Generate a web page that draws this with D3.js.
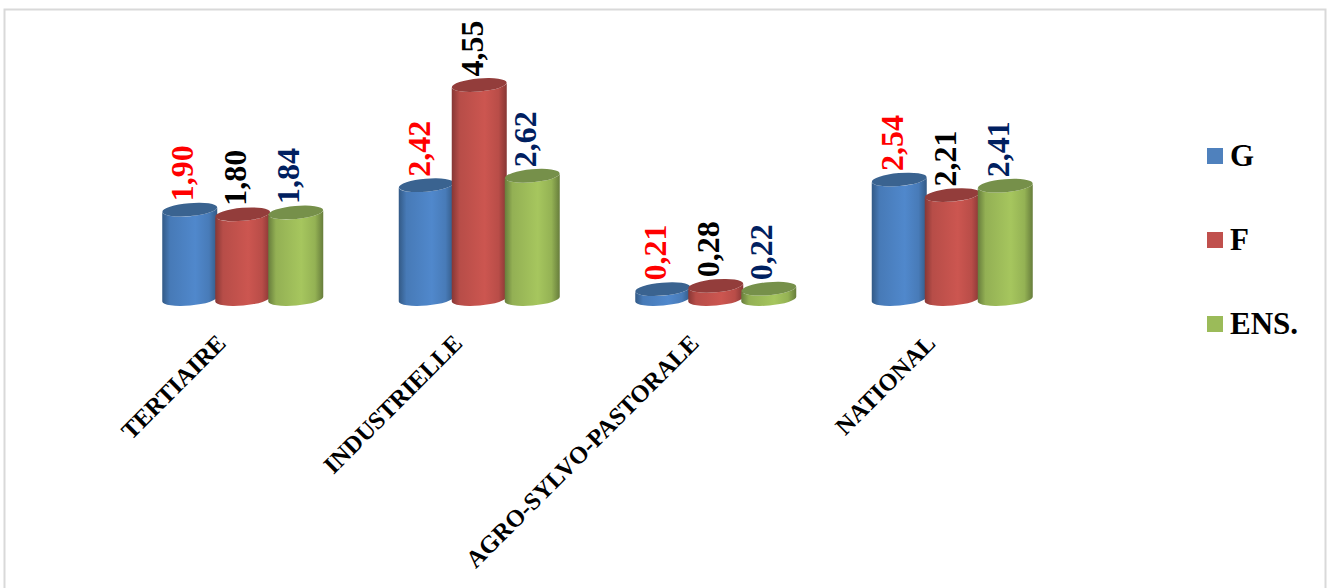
<!DOCTYPE html>
<html><head><meta charset="utf-8">
<script src="https://cdn.jsdelivr.net/npm/d3@7"></script>
<style>html,body{margin:0;padding:0;background:#fff}svg{display:block}
text{font-family:"Liberation Serif",serif;font-weight:bold}</style>
</head><body><svg id="c" width="1330" height="588"></svg>
<script>
const categories = ["TERTIAIRE","INDUSTRIELLE","AGRO-SYLVO-PASTORALE","NATIONAL"];
const seriesNames = ["G","F","ENS."];
const valuesG = [1.90,2.42,0.21,2.54];
const valuesF = [1.80,4.55,0.28,2.21];
const valuesEns = [1.84,2.62,0.22,2.41];
const seriesColors = ["#4f81bd","#c0504d","#9bbb59"];
const centerColors = ["#5088cc","#cc5650","#a6c65e"];
const topColors = ["#3a6390","#933d3b","#76904a"];
const edgeColors = ["#335a86","#873735","#677d3c"];
const labelColors = ["#ff0000","#000000","#002060"];

const allValues = [valuesG,valuesF,valuesEns];
const svg = d3.select("#c");
svg.append("rect").attr("x",4.5).attr("y",9.5).attr("width",1321).attr("height",590)
  .attr("fill","#fff").attr("stroke","#d9d9d9").attr("stroke-width",2);

const defs = svg.append("defs");
centerColors.forEach((c,i)=>{
  const g = defs.append("linearGradient").attr("id","g"+i);
  [[0,edgeColors[i]],[.14,d3.interpolateRgb(edgeColors[i],c)(.7)],[.6,c],[.85,d3.interpolateRgb(edgeColors[i],c)(.72)],[1,edgeColors[i]]]
    .forEach(([o,col])=>g.append("stop").attr("offset",o).attr("stop-color",col));
});

const x = d3.scaleBand().domain(categories).range([124.5,1070.5]).padding(0);
const inner = d3.scaleBand().domain(seriesNames).range([-79.5,79.5]);
const y = d3.scaleLinear().domain([0,4.55]).range([299,85]);
const rx = 27.5, ry = 6.5, tilt = -5;
const dy = rx*Math.sin(tilt*Math.PI/180);
const plot = svg.append("g");

categories.forEach((cat,ci)=>{
  const cx0 = x(cat)+x.bandwidth()/2;
  seriesNames.forEach((s,si)=>{
    const v = allValues[si][ci];
    const cx = cx0+inner(s)+inner.bandwidth()/2;
    const yt = y(v), yb = y(0);
    plot.append("path")
      .attr("d",`M${cx-rx},${yt-dy}L${cx-rx},${yb-dy}A${rx},${ry} ${tilt} 0 0 ${cx+rx},${yb+dy}L${cx+rx},${yt+dy}A${rx},${ry} ${tilt} 0 1 ${cx-rx},${yt-dy}Z`)
      .attr("fill",`url(#g${si})`);
    plot.append("ellipse").attr("cx",cx).attr("cy",yt).attr("rx",rx).attr("ry",ry)
      .attr("transform",`rotate(${tilt} ${cx} ${yt})`).attr("fill",topColors[si]);
    plot.append("text")
      .attr("transform",`translate(${cx+3.5},${yt-8.5}) rotate(-90)`)
      .attr("font-size",32).attr("fill",labelColors[si])
      .text(String(v.toFixed(2)).replace(".",","));
  });
});

const axis = svg.append("g").attr("transform","translate(-24,336)")
  .call(d3.axisBottom(x).tickSize(0).tickPadding(0));
axis.select(".domain").remove();
axis.selectAll("text").attr("font-size",24.4).attr("fill","#000")
  .attr("font-family","Liberation Serif").attr("font-weight","bold")
  .attr("text-anchor","end").attr("dy","0.5em").attr("y",0)
  .attr("transform","rotate(-45)");

const legendY = d3.scalePoint().domain(seriesNames).range([156,324]);
seriesNames.forEach((s,i)=>{
  svg.append("rect").attr("x",1207).attr("y",legendY(s)-8).attr("width",16).attr("height",16).attr("fill",seriesColors[i]);
  svg.append("text").attr("x",1230).attr("y",legendY(s)+10).attr("font-size",31).attr("fill","#000").text(s);
});
</script></body></html>
